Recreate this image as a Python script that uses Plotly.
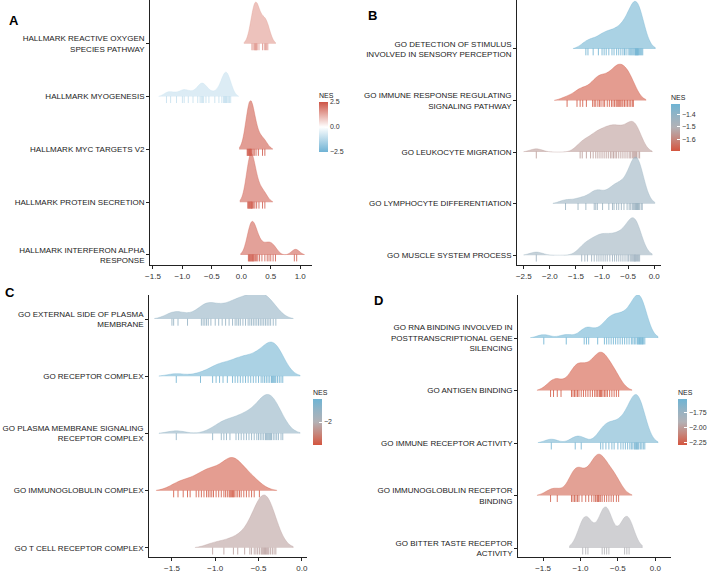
import plotly.graph_objects as go
from plotly.colors import sample_colorscale

# ---------------- DATA ----------------
# Panel A (top -> bottom)
a_terms = ["HALLMARK REACTIVE OXYGEN<br>SPECIES PATHWAY", "HALLMARK MYOGENESIS",
           "HALLMARK MYC TARGETS V2", "HALLMARK PROTEIN SECRETION",
           "HALLMARK INTERFERON ALPHA<br>RESPONSE"]
a_nes = [1.5, -1.0, 2.4, 2.3, 2.3]
a_vals = [
    [0.18, 0.20, 0.22, 0.23, 0.24, 0.25, 0.26, 0.27, 0.30, 0.36, 0.39, 0.41, 0.43, 0.45],
    [-1.27, -1.20, -1.10, -1.00, -0.97, -0.90, -0.82, -0.74, -0.70, -0.68, -0.66, -0.64,
     -0.60, -0.55, -0.45, -0.38, -0.33, -0.30, -0.29, -0.28, -0.27, -0.26, -0.25, -0.24,
     -0.22, -0.20, -0.18],
    [0.10, 0.11, 0.12, 0.13, 0.14, 0.15, 0.15, 0.16, 0.17, 0.18, 0.20, 0.22, 0.25, 0.29, 0.36, 0.40],
    [0.11, 0.12, 0.13, 0.14, 0.15, 0.16, 0.17, 0.17, 0.18, 0.19, 0.21, 0.23, 0.26, 0.30, 0.36, 0.40],
    [0.12, 0.13, 0.14, 0.15, 0.16, 0.17, 0.18, 0.19, 0.20, 0.21, 0.22, 0.24, 0.26, 0.28, 0.31,
     0.35, 0.40, 0.44, 0.47, 0.50, 0.54, 0.58, 0.90, 0.94],
]

# Panel B
b_terms = ["GO DETECTION OF STIMULUS<br>INVOLVED IN SENSORY PERCEPTION",
           "GO IMMUNE RESPONSE REGULATING<br>SIGNALING PATHWAY",
           "GO LEUKOCYTE MIGRATION", "GO LYMPHOCYTE DIFFERENTIATION",
           "GO MUSCLE SYSTEM PROCESS"]
b_nes = [-1.33, -1.68, -1.55, -1.43, -1.44]
b_vals = [
    [-1.31, -1.27, -1.17, -1.07, -1.00, -0.96, -0.92, -0.87, -0.81, -0.77, -0.72, -0.68,
     -0.64, -0.60, -0.57, -0.54, -0.50, -0.47, -0.45, -0.43, -0.41, -0.39, -0.37, -0.36,
     -0.35, -0.34, -0.33, -0.32, -0.31, -0.30, -0.28, -0.26, -0.24, -0.22],
    [-1.67, -1.48, -1.42, -1.37, -1.30, -1.18, -1.15, -1.12, -1.08, -1.05, -1.02, -0.98,
     -0.95, -0.90, -0.86, -0.82, -0.79, -0.76, -0.73, -0.71, -0.69, -0.67, -0.65, -0.62,
     -0.60, -0.57, -0.54, -0.51, -0.48, -0.45, -0.42, -0.40],
    [-2.26, -1.42, -1.38, -1.30, -1.22, -1.17, -1.12, -1.08, -1.04, -1.00, -0.96, -0.92,
     -0.88, -0.84, -0.81, -0.78, -0.75, -0.72, -0.68, -0.64, -0.60, -0.56, -0.52, -0.48,
     -0.45, -0.42, -0.40, -0.38, -0.36, -0.34, -0.31, -0.28],
    [-1.70, -1.46, -1.31, -1.15, -1.12, -1.09, -0.99, -0.87, -0.80, -0.77, -0.72, -0.68,
     -0.63, -0.58, -0.52, -0.48, -0.45, -0.42, -0.40, -0.38, -0.36, -0.35, -0.34, -0.33,
     -0.32, -0.31, -0.30, -0.28, -0.25, -0.23],
    [-2.26, -1.39, -1.33, -1.28, -1.20, -1.15, -1.10, -1.06, -1.02, -0.98, -0.94, -0.90,
     -0.85, -0.80, -0.76, -0.72, -0.68, -0.64, -0.60, -0.56, -0.52, -0.49, -0.46, -0.44,
     -0.42, -0.40, -0.38, -0.37, -0.36, -0.34, -0.32, -0.30, -0.28],
]

# Panel C
c_terms = ["GO EXTERNAL SIDE OF PLASMA<br>MEMBRANE", "GO RECEPTOR COMPLEX",
           "GO PLASMA MEMBRANE SIGNALING<br>RECEPTOR COMPLEX",
           "GO IMMUNOGLOBULIN COMPLEX", "GO T CELL RECEPTOR COMPLEX"]
c_nes = [-1.85, -1.72, -1.84, -2.28, -2.06]
c_vals = [
    [-1.50, -1.48, -1.43, -1.32, -1.16, -1.14, -1.12, -1.10, -1.08, -1.05, -1.00, -0.96,
     -0.92, -0.88, -0.84, -0.80, -0.77, -0.75, -0.73, -0.71, -0.68, -0.65, -0.62, -0.60,
     -0.58, -0.56, -0.54, -0.52, -0.50, -0.48, -0.46, -0.44, -0.42, -0.40, -0.38, -0.36,
     -0.33, -0.30],
    [-1.45, -1.17, -1.03, -0.99, -0.95, -0.91, -0.86, -0.80, -0.77, -0.74, -0.71, -0.68,
     -0.65, -0.62, -0.59, -0.56, -0.53, -0.50, -0.47, -0.45, -0.43, -0.41, -0.39, -0.37,
     -0.35, -0.34, -0.33, -0.32, -0.31, -0.30, -0.28, -0.26, -0.24, -0.22],
    [-1.45, -1.03, -0.93, -0.90, -0.87, -0.83, -0.76, -0.73, -0.70, -0.67, -0.64, -0.61,
     -0.58, -0.55, -0.52, -0.50, -0.48, -0.46, -0.44, -0.42, -0.41, -0.40, -0.39, -0.38,
     -0.37, -0.36, -0.35, -0.33, -0.31, -0.29, -0.27, -0.24, -0.22],
    [-1.48, -1.43, -1.37, -1.32, -1.29, -1.22, -1.19, -1.16, -1.13, -1.10, -1.08, -1.06,
     -1.04, -1.02, -0.99, -0.96, -0.93, -0.90, -0.88, -0.86, -0.84, -0.83, -0.82, -0.81,
     -0.80, -0.79, -0.78, -0.76, -0.74, -0.72, -0.70, -0.67, -0.64, -0.61, -0.58, -0.55,
     -0.49],
    [-1.03, -0.90, -0.79, -0.74, -0.66, -0.60, -0.58, -0.55, -0.53, -0.51, -0.49, -0.47,
     -0.46, -0.45, -0.44, -0.43, -0.42, -0.41, -0.40, -0.39, -0.38, -0.36, -0.34, -0.32,
     -0.30],
]

# Panel D
d_terms = ["GO RNA BINDING INVOLVED IN<br>POSTTRANSCRIPTIONAL GENE<br>SILENCING",
           "GO ANTIGEN BINDING", "GO IMMUNE RECEPTOR ACTIVITY",
           "GO IMMUNOGLOBULIN RECEPTOR<br>BINDING",
           "GO BITTER TASTE RECEPTOR<br>ACTIVITY"]
d_nes = [-1.53, -2.28, -1.56, -2.25, -1.90]
d_vals = [
    [-1.49, -1.19, -0.95, -0.92, -0.89, -0.77, -0.68, -0.65, -0.62, -0.59, -0.56, -0.53,
     -0.50, -0.47, -0.44, -0.41, -0.38, -0.35, -0.32, -0.30, -0.28, -0.26, -0.24, -0.23,
     -0.22, -0.21, -0.20, -0.19, -0.18, -0.17, -0.16, -0.14],
    [-1.40, -1.36, -1.31, -1.26, -1.12, -1.10, -1.08, -1.06, -1.04, -1.02, -0.99, -0.96,
     -0.93, -0.90, -0.87, -0.84, -0.81, -0.79, -0.77, -0.75, -0.74, -0.73, -0.72, -0.70,
     -0.68, -0.66, -0.64, -0.61, -0.58, -0.55, -0.52, -0.49],
    [-1.39, -1.07, -0.99, -0.73, -0.70, -0.66, -0.62, -0.58, -0.55, -0.50, -0.46, -0.43,
     -0.40, -0.37, -0.34, -0.32, -0.30, -0.28, -0.27, -0.26, -0.25, -0.24, -0.23, -0.22,
     -0.20, -0.18, -0.16, -0.14],
    [-1.40, -1.31, -1.12, -1.10, -1.08, -1.06, -1.04, -1.02, -0.98, -0.93, -0.89, -0.85,
     -0.82, -0.80, -0.78, -0.77, -0.76, -0.75, -0.73, -0.71, -0.68, -0.65, -0.62, -0.59,
     -0.56, -0.52, -0.49],
    [-0.97, -0.93, -0.90, -0.71, -0.68, -0.65, -0.62, -0.41, -0.38, -0.35],
]

# colour bar ranges / ticks
a_range, a_ticks = (-2.5, 2.5), [-2.5, 0.0, 2.5]
b_range, b_ticks = (-1.69, -1.32), [-1.6, -1.5, -1.4]
c_range, c_ticks = (-2.3, -1.7), [-2.0]
d_range, d_ticks = (-2.30, -1.52), [-2.25, -2.00, -1.75]

# x tick values
a_xt = [-1.5, -1.0, -0.5, 0.0, 0.5, 1.0]
b_xt = [-2.5, -2.0, -1.5, -1.0, -0.5, 0.0]
c_xt = [-1.5, -1.0, -0.5, 0.0]
d_xt = [-1.5, -1.0, -0.5, 0.0]

# ---------------- STYLE ----------------
W, H = 708, 571
FONT = "Liberation Sans, Arial, sans-serif"
scale_div = [[0.0, "#6FB2D4"], [0.5, "#FFFFFF"], [1.0, "#CD5546"]]
scale_seq = [[0.0, "#D4553F"], [0.25, "#C6877D"], [0.5, "#B3B1B5"],
             [0.75, "#95B3C4"], [1.0, "#6EB4D4"]]
FILL_ALPHA = 0.6
RIDGE_SCALE = 1.85   # ridge height stretch (plotly half-violin = 0.5 spacing)
CB_TITLE = 11        # px reserved above each colour bar for its title


def px_x(p):
    return p / W


def px_y(p):
    return 1 - p / H


def col(scale, lo, hi, v, alpha):
    t = min(max((v - lo) / (hi - lo), 0), 1)
    c = sample_colorscale(scale, [t])[0]
    r, g, b = [int(float(s)) for s in c[c.index("(") + 1:-1].split(",")]
    return f"rgba({r},{g},{b},{alpha})"


panels = [
    dict(terms=a_terms, nes=a_nes, vals=a_vals, rng=a_range, cticks=a_ticks, xt=a_xt,
         scale=scale_div, bw=0.065, xr=[-1.55, 1.2], yr=[-0.19, 4.83],
         xd=[150, 312], yd=[0, 265], cb=(319, 101, 152), fmt=".1f"),
    dict(terms=b_terms, nes=b_nes, vals=b_vals, rng=b_range, cticks=b_ticks, xt=b_xt,
         scale=scale_seq, bw=0.12, xr=[-2.63, 0.13], yr=[-0.19, 4.95],
         xd=[517, 661], yd=[0, 265], cb=(671, 103, 151), fmt=".1f"),
    dict(terms=c_terms, nes=c_nes, vals=c_vals, rng=c_range, cticks=c_ticks, xt=c_xt,
         scale=scale_seq, bw=0.1, xr=[-1.765, 0.06], yr=[-0.16, 4.42],
         xd=[149, 307], yd=[295, 557], cb=(313, 398, 445), fmt=".0f"),
    dict(terms=d_terms, nes=d_nes, vals=d_vals, rng=d_range, cticks=d_ticks, xt=d_xt,
         scale=scale_seq, bw=0.088, xr=[-1.835, 0.21], yr=[-0.17, 4.82],
         xd=[518, 671], yd=[295, 557], cb=(678, 398, 445), fmt=".2f"),
]

fig = go.Figure()
layout = dict(width=W, height=H, margin=dict(l=0, r=0, t=0, b=0, autoexpand=False),
              paper_bgcolor="white", plot_bgcolor="rgba(0,0,0,0)", showlegend=False,
              font=dict(family=FONT, size=8, color="#222222"), violinmode="overlay",
              violingap=0, violingroupgap=0)

axis_common = dict(showgrid=False, zeroline=False, showline=True, linecolor="#222222",
                   linewidth=0.8, ticks="outside", ticklen=3, tickcolor="#222222",
                   tickwidth=0.8, automargin=False,
                   tickfont=dict(size=8, color="#333333", family=FONT))

next_axis = 5
for i, p in enumerate(panels):
    n = i + 1
    xa = "x" if n == 1 else f"x{n}"
    ya = "y" if n == 1 else f"y{n}"
    lo, hi = p["rng"]
    r0, r1 = p["yr"]
    k = len(p["terms"])
    for j in range(k):  # top ridge first, lower ridges drawn on top
        pos = k - 1 - j
        rid = next_axis
        next_axis += 1
        # overlay axis stretched around this ridge's baseline
        layout[f"yaxis{rid}"] = dict(
            overlaying=ya, anchor=xa, visible=False, showgrid=False, zeroline=False,
            range=[pos + (r0 - pos) / RIDGE_SCALE, pos + (r1 - pos) / RIDGE_SCALE])
        fill = col(p["scale"], lo, hi, p["nes"][j], FILL_ALPHA)
        tick = col(p["scale"], lo, hi, p["nes"][j], 0.85)
        vals = p["vals"][j]
        fig.add_trace(go.Violin(
            x=vals, y=[pos] * len(vals), orientation="h", side="positive",
            points="all", pointpos=-0.06, jitter=0,
            marker=dict(symbol="line-ns-open", size=5, color=tick, line=dict(width=1)),
            fillcolor=fill, line=dict(color=fill, width=0.6),
            scalegroup=f"g{n}", scalemode="width", bandwidth=p["bw"], spanmode="soft",
            box_visible=False, meanline_visible=False, hoverinfo="skip",
            xaxis=xa, yaxis=f"y{rid}", showlegend=False))
    # colour bar (len includes the title block)
    cx, cy0, cy1 = p["cb"]
    top = cy0 - CB_TITLE
    fig.add_trace(go.Scatter(
        x=[None], y=[None], mode="markers", xaxis=xa, yaxis=ya, hoverinfo="skip",
        marker=dict(color=[lo], cmin=lo, cmax=hi, colorscale=p["scale"], showscale=True,
                    colorbar=dict(
                        x=px_x(cx), xanchor="left", y=px_y(top), yanchor="top",
                        len=cy1 - top, lenmode="pixels", thickness=9, thicknessmode="pixels",
                        outlinewidth=0, xpad=0, ypad=0,
                        title=dict(text="NES", side="top", font=dict(size=7, family=FONT)),
                        tickvals=p["cticks"], tickformat=p["fmt"],
                        ticks="inside", ticklen=3, tickcolor="white",
                        tickfont=dict(size=7, family=FONT, color="#333333")))))
    layout[("xaxis" if n == 1 else f"xaxis{n}")] = dict(
        axis_common, domain=[px_x(p["xd"][0]), px_x(p["xd"][1])], range=p["xr"],
        anchor=ya, tickvals=p["xt"], tickformat=".1f")
    layout[("yaxis" if n == 1 else f"yaxis{n}")] = dict(
        axis_common, domain=[px_y(p["yd"][1]), px_y(p["yd"][0])], range=p["yr"],
        anchor=xa, tickvals=list(range(k - 1, -1, -1)), ticktext=p["terms"],
        tickfont=dict(size=8, color="#222222", family=FONT))

letters = [("A", 7, 20), ("B", 366, 15), ("C", 3, 292), ("D", 372, 300)]
ann = []
for t, x, y in letters:
    ann.append(dict(text=f"<b>{t}</b>", x=px_x(x), y=px_y(y), xref="paper", yref="paper",
                    xanchor="left", yanchor="middle", showarrow=False,
                    font=dict(size=13, family=FONT, color="black")))
layout["annotations"] = ann
fig.update_layout(**layout)
fig.write_html("out.html", config={"displayModeBar": False},
               post_script="document.body.style.margin='0px';")
